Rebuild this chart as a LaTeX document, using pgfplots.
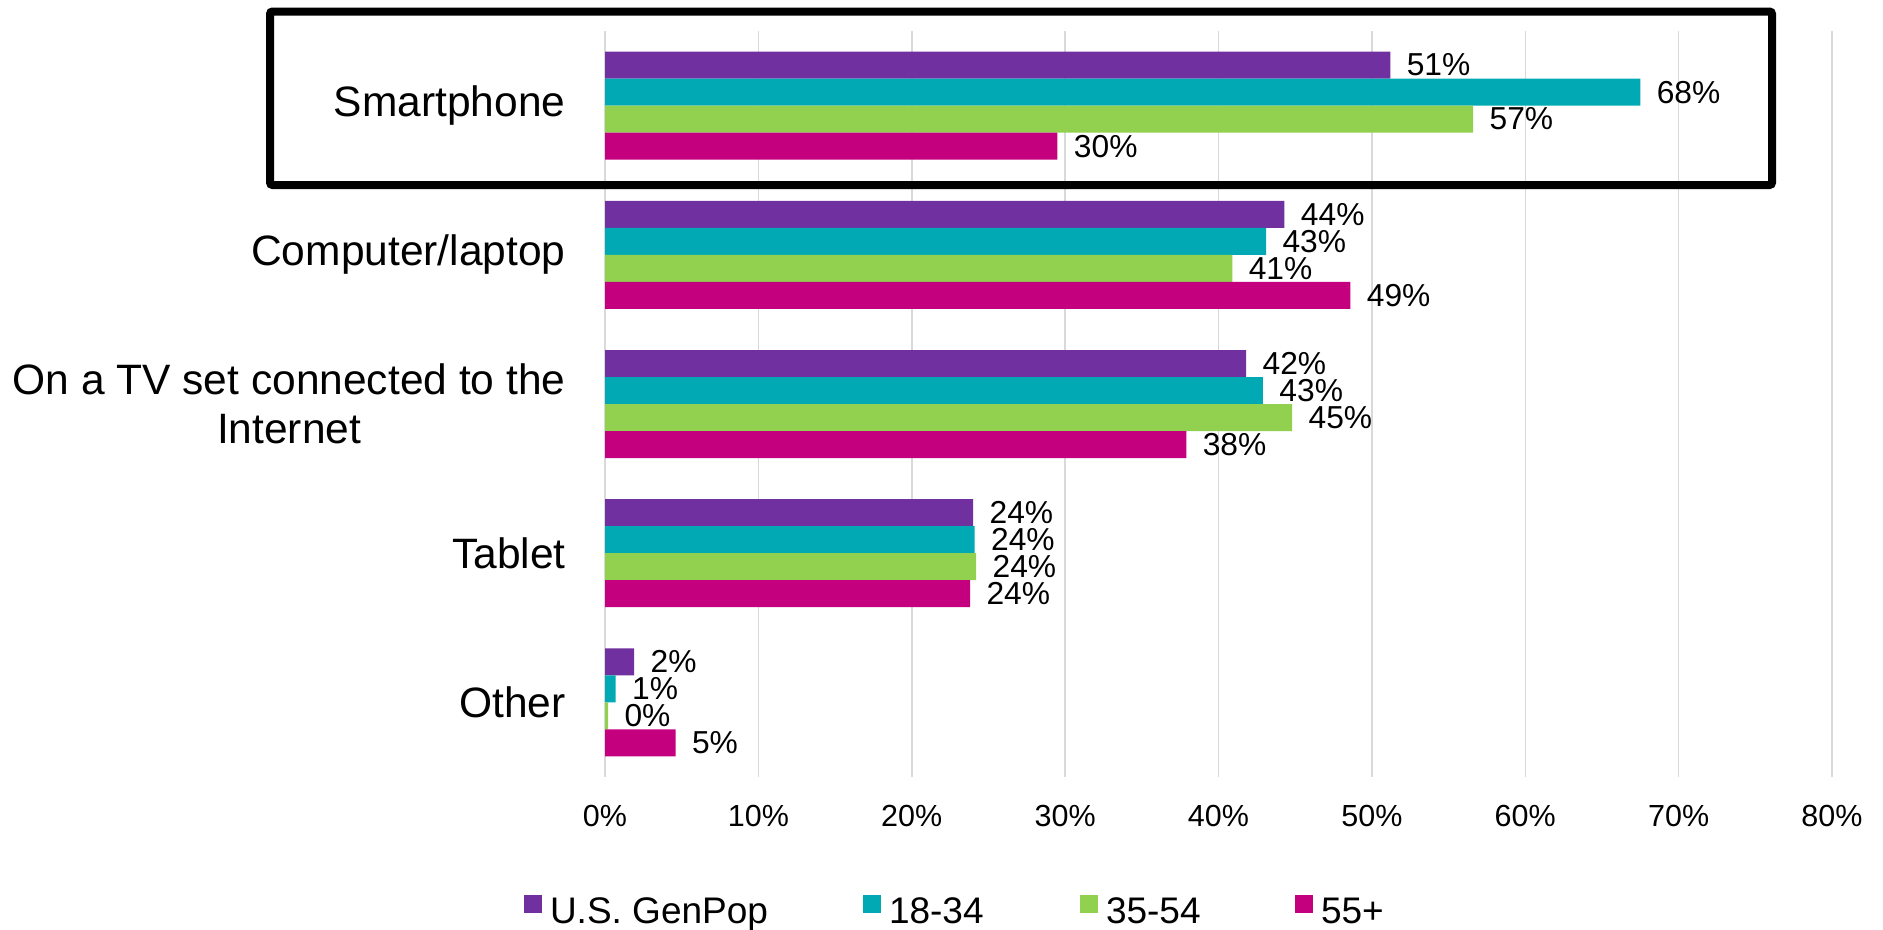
\documentclass[border=0pt]{standalone}
\usepackage{pgfplots}
\pgfplotsset{compat=1.18}
\usepackage{fontspec}
\setmainfont{Liberation Sans}

\definecolor{cpurple}{HTML}{7030A0}
\definecolor{cteal}{HTML}{00A9B4}
\definecolor{cgreen}{HTML}{92D050}
\definecolor{cmag}{HTML}{C5007F}
\definecolor{gridgray}{HTML}{D9D9D9}

\pgfplotsset{
  sq/.style={legend image code/.code={
      \fill[##1] (0bp,0bp) rectangle (7.2bp,7.2bp);
      \path (10.4bp,0bp);}},
}

\begin{document}
\begin{tikzpicture}
\useasboundingbox (0,0) rectangle (753.2bp,-372bp);
\begin{axis}[
    at={(242bp,-310.8bp)}, anchor=south west,
    scale only axis, width=490.8bp, height=298.4bp,
    xbar, bar width=10.8bp,
    xmin=0, xmax=80, ymin=-0.5, ymax=4.5, y dir=reverse,
    xtick={0,10,...,80},
    xticklabel={\pgfmathprintnumber[assume math mode=true]{\tick}\%},
    ytick={0,1,2,3,4},
    yticklabels={Smartphone, Computer/laptop, {On a TV set connected to the\\Internet}, Tablet, Other},
    xmajorgrids, major grid style={draw=gridgray, line width=0.6bp},
    axis line style={draw=none}, major tick length=0pt,
    xticklabel style={font=\fontsize{12.2bp}{14bp}\selectfont, inner sep=0pt, yshift=-11.2bp},
    yticklabel style={font=\fontsize{17bp}{19.7bp}\selectfont, align=center, inner sep=0pt, xshift=-15.6bp},
    point meta=explicit,
    nodes near coords={\pgfmathprintnumber[assume math mode=true]{\pgfplotspointmeta}\%},
    nodes near coords style={font=\fontsize{12.7bp}{14bp}\selectfont, inner sep=0pt, anchor=west, xshift=6.4bp},
    clip=false,
    legend columns=4,
    legend style={at={(-0.066,-0.1796)}, anchor=west, draw=none, fill=none,
      inner sep=0pt, outer sep=0pt, column sep=0pt,
      nodes={inner sep=0pt, font=\fontsize{14.8bp}{17bp}\selectfont}},
]
\addplot[fill=cpurple, draw=none, bar shift=16.2bp, sq] coordinates {
  (51.2,0) [51] (44.3,1) [44] (41.8,2) [42] (24.0,3) [24] (1.9,4) [2]};
\addplot[fill=cteal, draw=none, bar shift=5.4bp, sq] coordinates {
  (67.5,0) [68] (43.1,1) [43] (42.9,2) [43] (24.1,3) [24] (0.7,4) [1]};
\addplot[fill=cgreen, draw=none, bar shift=-5.4bp, sq] coordinates {
  (56.6,0) [57] (40.9,1) [41] (44.8,2) [45] (24.2,3) [24] (0.2,4) [0]};
\addplot[fill=cmag, draw=none, bar shift=-16.2bp, sq] coordinates {
  (29.5,0) [30] (48.6,1) [49] (37.9,2) [38] (23.8,3) [24] (4.6,4) [5]};
\addlegendentry{\makebox[125.2bp][l]{U.S. GenPop}}
\addlegendentry{\makebox[76.4bp][l]{18-34}}
\addlegendentry{\makebox[75.6bp][l]{35-54}}
\addlegendentry{55+}
\end{axis}
\draw[line width=3.2bp, rounded corners=1bp] (108bp,-4.6bp) rectangle (708.8bp,-74bp);
\end{tikzpicture}
\end{document}
